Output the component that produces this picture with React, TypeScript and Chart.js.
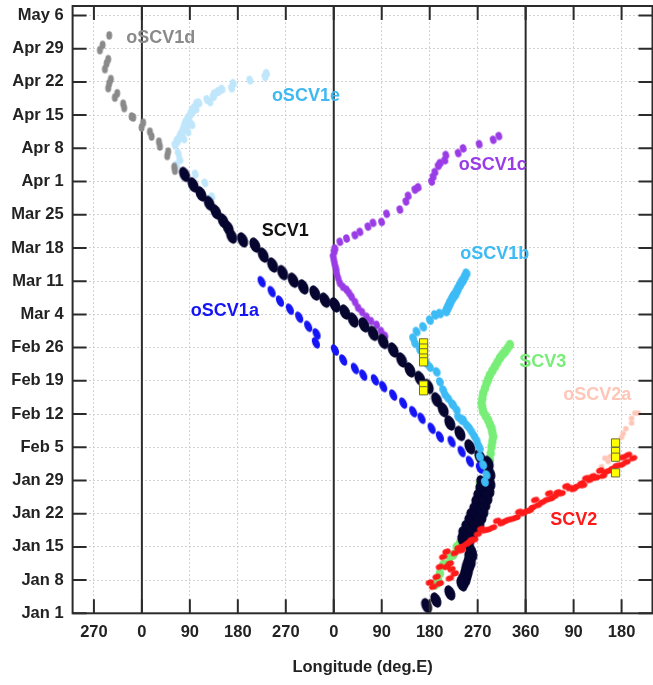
import React, { useEffect, useRef } from "react";
import { Chart, registerables } from "chart.js";

Chart.register(...registerables);

const FONT = '"Liberation Sans", Arial, Helvetica, sans-serif';

// ---- axes ----
const dateTickDays = [0, 7, 14, 21, 28, 35, 42, 49, 56, 63, 70, 77, 84, 91, 98, 105, 112, 119, 126];
const dateTickLabels = ["Jan 1", "Jan 8", "Jan 15", "Jan 22", "Jan 29", "Feb 5", "Feb 12", "Feb 19", "Feb 26", "Mar 4", "Mar 11", "Mar 18", "Mar 25", "Apr 1", "Apr 8", "Apr 15", "Apr 22", "Apr 29", "May 6"];
const lonTickValues = [-90, 0, 90, 180, 270, 360, 450, 540, 630, 720, 810, 900];
const lonTickLabels = ["270", "0", "90", "180", "270", "0", "90", "180", "270", "360", "90", "180"];
const meridianLines = [0, 360, 720];
const xTitle = "Longitude (deg.E)";

// ---- series (unwrapped longitude in deg, day since Jan 1) ----
const scv1Lon = [80, 96.2, 110.7, 126.3, 138.8, 152.5, 161.9, 168.3, 188.9, 212.0, 227.6, 245.2, 264.0, 283.8, 302.6, 324.5, 343.3, 362.1, 380.8, 396.4, 416.5, 433.9, 452.7, 471.4, 487.2, 502.8, 521.5, 537.1, 552.9, 565.2, 577.8, 596.6, 615.3, 634.1, 649.7, 652.8,
  637.8, 652.8, 636.0, 651.0, 632.2, 647.2, 628.5, 643.5, 624.7, 639.7, 619.1, 636.0, 615.3, 632.2, 609.7, 626.6, 604.1, 619.1, 602.2, 613.0,
  617.2, 619.0, 615.3, 616.0, 613.4, 611.0, 609.7, 608.0, 606.0, 603.0, 600.3, 577.8, 551.5, 534.1];
const scv1Day = [92.5, 90.3, 88.4, 86.4, 84.6, 82.7, 81.2, 79.5, 78.7, 77.6, 75.5, 73.4, 71.8, 70.2, 68.8, 67.5, 66.0, 65.0, 63.5, 61.8, 60.8, 59.0, 57.3, 55.5, 53.4, 51.3, 49.5, 47.8, 45.0, 42.9, 40.1, 37.9, 35.1, 33.0, 31.6, 29.5,
  27.5, 27.5, 26.0, 26.0, 24.5, 24.5, 23.2, 23.2, 21.7, 21.7, 20.5, 20.5, 19.3, 19.3, 18.0, 18.0, 16.7, 16.7, 15.4, 15.4,
  13.3, 12.6, 11.8, 11.1, 10.4, 9.6, 8.9, 8.2, 7.4, 6.8, 6.2, 4.3, 2.8, 1.6];

const oscv1aLon = [224.6, 243.3, 258.9, 277.6, 295.1, 312.0, 327.7, 326.4, 362.1, 377.6, 399.6, 415.2, 437.1, 452.7, 471.4, 490.2, 509.0, 524.7, 543.5, 559.0, 581.0, 599.8, 615.3, 634.1];
const oscv1aDay = [69.9, 67.8, 65.8, 64.1, 62.4, 60.5, 58.9, 57.0, 55.5, 53.4, 51.6, 50.2, 49.2, 47.8, 46.0, 44.3, 42.5, 41.1, 39.0, 37.2, 36.2, 34.1, 32.0, 30.6];

const oscv1bLon = [609.1, 605.9, 602.8, 599.7, 596.6, 593.4, 590.7, 588.1, 586.0, 584.0, 581.4, 578.7, 576.7, 574.6, 572.5, 570.3, 559.0, 549.7, 540.3, 527.7, 515.3, 508.9, 512.6, 522.0, 529.4, 534.1, 540.3, 552.9, 559.0, 565.2, 568.9, 574.6, 582.0, 584.0, 590.4, 593.4, 599.8, 602.7, 609.1, 614.0, 618.5, 623.4, 627.9, 630.9, 634.1, 634.1, 640.3, 646.6, 643.5];
const oscv1bDay = [71.7, 71.0, 70.3, 69.8, 69.2, 68.5, 67.9, 67.3, 67.0, 66.7, 66.2, 65.6, 65.1, 64.6, 64.1, 63.6, 63.2, 62.9, 61.8, 60.4, 59.4, 58.0, 56.9, 55.5, 54.1, 52.7, 51.9, 50.9, 48.8, 47.1, 46.1, 45.3, 44.2, 43.9, 42.9, 41.4, 40.7, 40.8, 39.7, 39.1, 38.3, 37.4, 36.5, 35.5, 34.8, 33.0, 31.3, 29.2, 27.7];

const oscv1cLon = [669.7, 659.0, 632.8, 602.8, 593.4, 570.3, 568.4, 559.5, 555.9, 549.7, 546.3, 543.5, 518.3, 512.1, 499.6, 495.3, 484.0, 459.1, 449.7, 433.7, 424.0, 409.0, 399.6, 384.0, 371.4, 362.1, 360.5, 358.9, 360.5, 362.1, 364.2, 365.3, 368.0, 371.4, 377.3, 384.0, 388.6, 393.4, 399.9, 405.8, 413.0, 421.5, 429.9, 440.3, 448.7, 455.9];
const oscv1cDay = [100.6, 99.8, 98.9, 98.0, 97.0, 96.6, 95.5, 94.9, 94.3, 93.0, 92.0, 91.0, 89.8, 89.3, 88.0, 86.8, 85.1, 84.2, 82.5, 82.3, 81.5, 80.4, 79.7, 79.0, 78.3, 76.9, 76.2, 75.2, 74.3, 73.4, 72.6, 71.7, 70.7, 69.6, 68.8, 68.2, 67.5, 66.7, 65.6, 64.4, 63.5, 62.5, 61.6, 60.8, 59.5, 58.5];

const oscv1dLon = [-61.3, -73.7, -78.8, -63.2, -66.2, -69.4, -58.2, -61.3, -63.2, -46.3, -50.7, -35.1, -33.2, -19.3, -16.3, 2.4, -0.6, 15.0, 18.2, 31.9, 33.8, 49.3, 47.5, 60.6, 61.9];
const oscv1dDay = [121.8, 119.8, 118.7, 116.8, 115.9, 114.7, 112.6, 111.7, 110.7, 109.6, 108.7, 107.4, 106.5, 104.7, 104.5, 103.4, 102.4, 101.5, 100.5, 99.4, 98.4, 97.3, 96.4, 94.1, 93.3];

const oscv1eLon = [233.9, 230.8, 202.6, 171.3, 168.3, 150.2, 143.1, 136.0, 133.8, 127.6, 122.0, 107.0, 103.2, 99.5, 101.4, 95.7, 93.9, 91.9, 88.2, 86.3, 82.6, 84.5, 80.7, 78.8, 76.9, 73.2, 71.3, 67.5, 65.7, 61.9, 68.1, 71.3, 65.1, 93.8, 86.3, 78.8, 100.0, 118.2, 131.3];
const oscv1eDay = [113.8, 113.1, 112.4, 111.7, 110.7, 110.5, 110.0, 109.5, 108.9, 107.8, 108.3, 107.6, 107.5, 106.7, 106.3, 106.2, 105.7, 105.3, 104.6, 104.2, 103.6, 102.8, 103.0, 102.3, 101.7, 101.0, 100.4, 99.8, 99.4, 98.7, 97.0, 95.6, 94.5, 103.0, 101.5, 100.0, 92.6, 90.7, 87.8];

const scv3Lon = [690.4, 685.7, 681.0, 676.3, 671.6, 666.9, 662.2, 657.5, 652.8, 649.7, 646.6, 643.4, 640.3, 638.8, 637.3, 638.8, 640.3, 645.0, 649.7, 653.0, 656.0, 657.5, 659.0, 657.5, 656.0, 654.4, 652.8, 651.2, 649.7, 648.1, 646.6, 634.1, 638.0, 632.0, 626.0, 620.0, 615.0, 609.1, 603.3, 596.6, 590.4, 584.0, 577.8, 571.6, 565.2, 559.0, 555.9, 552.9, 549.7];
const scv3Day = [56.6, 55.8, 55.1, 54.5, 53.8, 52.9, 52.0, 51.1, 50.2, 49.3, 48.5, 47.4, 46.4, 45.3, 44.3, 43.4, 42.5, 41.6, 40.7, 39.8, 39.0, 38.1, 37.2, 36.2, 35.1, 33.7, 32.3, 31.2, 30.2, 29.2, 28.1, 27.4, 25.5, 23.9, 22.3, 20.8, 19.3, 16.9, 15.8, 14.8, 14.0, 12.3, 11.9, 10.2, 10.2, 8.4, 7.0, 6.3, 6.0];

const scv2Lon = [921.7, 912.3, 902.9, 909.3, 899.9, 890.5, 883.0, 877.9, 870.0, 865.4, 859.9, 852.9, 846.0, 840.4, 833.7, 828.0, 824.9, 815.5, 810.0, 802.9, 796.2, 787.4, 780.0, 774.8, 768.0, 764.1, 759.2, 751.0, 743.4, 737.9, 733.0, 727.9, 721.0, 715.3, 707.9, 702.9, 695.0, 687.2, 681.0, 674.8, 666.6, 659.0, 651.0, 643.5, 636.6, 630.3, 623.5, 618.5, 614.0, 609.1, 601.0, 599.8, 594.0, 587.2, 571.6, 565.2, 577.8, 571.6, 559.0, 581.0, 587.2, 577.8, 552.9, 540.3, 546.5, 559.0];
const scv2Day = [32.7, 33.4, 32.9, 31.9, 31.3, 31.1, 30.5, 30.1, 29.8, 29.0, 30.1, 28.6, 28.9, 28.1, 28.5, 27.0, 27.4, 26.7, 26.2, 26.4, 26.8, 25.3, 25.5, 24.7, 24.2, 25.3, 23.9, 23.4, 22.8, 23.9, 22.3, 21.7, 21.5, 21.1, 21.4, 20.2, 19.9, 19.7, 19.4, 19.0, 19.5, 18.1, 17.7, 17.5, 17.8, 16.7, 15.5, 15.5, 15.0, 14.6, 14.1, 13.3, 13.8, 12.7, 13.0, 11.9, 10.5, 9.8, 9.8, 9.3, 8.4, 7.4, 7.7, 6.5, 5.6, 6.3];

const oscv2aLon = [931.1, 924.9, 918.7, 918.7, 908.0, 903.0, 900.0, 893.6, 877.9, 874.8, 868.6, 862.4];
const oscv2aDay = [42.2, 42.2, 41.1, 40.1, 38.9, 37.9, 37.1, 33.4, 33.0, 32.0, 32.7, 30.9];

const markerLon = [528.5, 528.5, 528.5, 528.5, 528.5, 528.5, 528.5, 888.7, 888.7, 888.7, 888.7];
const markerDay = [57.0, 55.9, 54.9, 53.8, 53.0, 48.1, 46.9, 35.9, 34.1, 32.9, 29.6];

// ---- annotation labels ----
const labelTexts = ["oSCV1d", "oSCV1e", "oSCV1c", "SCV1", "oSCV1b", "oSCV1a", "SCV3", "oSCV2a", "SCV2"];
const labelLon = [35.6, 307.7, 658.5, 269.2, 662.2, 155.7, 752.3, 854.5, 810.4];
const labelDay = [121.3, 109.1, 94.4, 80.6, 75.7, 63.8, 53.0, 46.0, 19.7];

const COLORS: Record<string, string> = {
  oSCV1d: "#8a8a8a",
  oSCV1e: "#40b8f2",
  oSCV1eDots: "#bfe6fb",
  oSCV1c: "#9a3ce6",
  SCV1: "#050530",
  SCV1Text: "#111111",
  oSCV1b: "#3dbbf5",
  oSCV1a: "#1414f5",
  SCV3: "#78ee78",
  oSCV2a: "#ffc6b8",
  SCV2: "#ff1a1a",
};
const labelColorKeys = ["oSCV1d", "oSCV1e", "oSCV1c", "SCV1Text", "oSCV1b", "oSCV1a", "SCV3", "oSCV2a", "SCV2"];

function pts(lon: number[], day: number[]) {
  return lon.map((x, i) => ({ x, y: day[i] }));
}

function blob(w: number, h: number, color: string, tilt: number) {
  const c = document.createElement("canvas");
  const s = Math.ceil(Math.max(w, h)) + 4;
  c.width = s;
  c.height = s;
  const g = c.getContext("2d")!;
  g.translate(s / 2, s / 2);
  g.rotate(tilt);
  g.beginPath();
  g.ellipse(0, 0, w / 2, h / 2, 0, 0, Math.PI * 2);
  g.fillStyle = color;
  g.fill();
  return c;
}

const decorPlugin = {
  id: "decor",
  beforeDatasetsDraw(chart: any) {
    const { ctx, chartArea: a, scales } = chart;
    const x = scales.x;
    ctx.save();
    ctx.strokeStyle = "#2b2b2b";
    ctx.lineWidth = 2;
    meridianLines.forEach((v) => {
      const px = x.getPixelForValue(v);
      ctx.beginPath();
      ctx.moveTo(px, a.top);
      ctx.lineTo(px, a.bottom);
      ctx.stroke();
    });
    ctx.restore();
  },
  afterDatasetsDraw(chart: any) {
    const { ctx, scales } = chart;
    ctx.save();
    ctx.font = `bold 18px ${FONT}`;
    ctx.textAlign = "center";
    ctx.textBaseline = "middle";
    labelTexts.forEach((t, i) => {
      ctx.fillStyle = COLORS[labelColorKeys[i]];
      ctx.fillText(t, scales.x.getPixelForValue(labelLon[i]), scales.y.getPixelForValue(labelDay[i]));
    });
    ctx.restore();
  },
  afterDraw(chart: any) {
    const { ctx, chartArea: a, scales } = chart;
    const TL = 14;
    ctx.save();
    ctx.strokeStyle = "#2b2b2b";
    ctx.lineWidth = 2;
    ctx.beginPath();
    lonTickValues.forEach((v) => {
      const px = scales.x.getPixelForValue(v);
      ctx.moveTo(px, a.bottom);
      ctx.lineTo(px, a.bottom - TL);
      ctx.moveTo(px, a.top);
      ctx.lineTo(px, a.top + TL);
    });
    dateTickDays.forEach((v) => {
      const py = scales.y.getPixelForValue(v);
      ctx.moveTo(a.left, py);
      ctx.lineTo(a.left + TL, py);
      ctx.moveTo(a.right, py);
      ctx.lineTo(a.right - TL, py);
    });
    ctx.stroke();
    ctx.strokeRect(a.left, a.top, a.right - a.left, a.bottom - a.top);
    ctx.fillStyle = "#222";
    ctx.font = `bold 16.5px ${FONT}`;
    ctx.textAlign = "center";
    ctx.textBaseline = "middle";
    ctx.fillText(xTitle, (a.left + a.right) / 2, 667.5);
    ctx.restore();
  },
};

export default function App() {
  const ref = useRef<HTMLCanvasElement | null>(null);
  useEffect(() => {
    document.body.style.margin = "0";
    const canvas = ref.current!;
    const tickFont = { family: FONT, size: 16.5, weight: "bold" as const };
    const sq = (d: any[], style: any, extra: any = {}) => ({ data: d, pointStyle: style, pointRadius: 4, showLine: false, ...extra });
    const chart = new Chart(canvas, {
      type: "scatter",
      data: {
        datasets: [
          {
            label: "markers",
            data: pts(markerLon, markerDay),
            pointStyle: "rect",
            pointRadius: 5.8,
            backgroundColor: "#ffff00",
            borderColor: "#6a6a3a",
            borderWidth: 1,
          },
          sq(pts(scv2Lon, scv2Day), blob(8.5, 6, COLORS.SCV2, -0.35), { label: "SCV2" }),
          sq(pts(oscv2aLon, oscv2aDay), blob(5.5, 5.5, COLORS.oSCV2a, 0), { label: "oSCV2a" }),
          sq(pts(oscv1bLon, oscv1bDay), blob(7.5, 10, COLORS.oSCV1b, -0.4), { label: "oSCV1b" }),
          sq(pts(oscv1aLon, oscv1aDay), blob(7, 12, COLORS.oSCV1a, -0.45), { label: "oSCV1a" }),
          sq(pts(scv1Lon, scv1Day), blob(10, 16, COLORS.SCV1, -0.4), { label: "SCV1" }),
          sq(pts(oscv1dLon, oscv1dDay), blob(6, 8.5, COLORS.oSCV1d, 0), { label: "oSCV1d" }),
          sq(pts(oscv1eLon, oscv1eDay), blob(6.5, 9, COLORS.oSCV1eDots, -0.3), { label: "oSCV1e" }),
          sq(pts(oscv1cLon, oscv1cDay), blob(6.5, 8.5, COLORS.oSCV1c, -0.3), { label: "oSCV1c" }),
          sq(pts(scv3Lon, scv3Day), blob(8.5, 10, COLORS.SCV3, 0), { label: "SCV3" }),
        ],
      },
      options: {
        responsive: false,
        animation: false,
        devicePixelRatio: 1,
        events: [],
        layout: { autoPadding: false, padding: { left: 0, right: 0.5, top: 6, bottom: 0 } },
        plugins: { legend: { display: false }, tooltip: { enabled: false } },
        scales: {
          x: {
            type: "linear",
            min: -130,
            max: 958,
            afterBuildTicks: (s: any) => {
              s.ticks = lonTickValues.map((v) => ({ value: v }));
            },
            afterFit: (s: any) => {
              s.height = 71.7;
              s.paddingLeft = 0;
              s.paddingRight = 0;
            },
            ticks: {
              callback: (_v: any, i: number) => lonTickLabels[i],
              font: tickFont,
              color: "#222",
              padding: 9,
              maxRotation: 0,
              autoSkip: false,
            },
            grid: { color: "#d2d2d2", lineWidth: 1, drawTicks: false },
            border: { display: false, dash: [2, 2] },
          },
          y: {
            type: "linear",
            min: 0,
            max: 128,
            afterBuildTicks: (s: any) => {
              s.ticks = dateTickDays.map((v) => ({ value: v }));
            },
            afterFit: (s: any) => {
              s.width = 72.6;
              s.paddingTop = 0;
              s.paddingBottom = 0;
            },
            ticks: {
              callback: (_v: any, i: number) => dateTickLabels[i],
              font: tickFont,
              color: "#222",
              padding: 9,
              autoSkip: false,
            },
            grid: { color: "#d2d2d2", lineWidth: 1, drawTicks: false },
            border: { display: false, dash: [2, 2] },
          },
        },
      },
      plugins: [decorPlugin],
    } as any);
    return () => chart.destroy();
  }, []);
  return (
    <div style={{ position: "absolute", left: 0, top: 0, width: 653, height: 685, background: "#fff" }}>
      <canvas ref={ref} width={653} height={685} style={{ width: 653, height: 685, display: "block" }} />
    </div>
  );
}
